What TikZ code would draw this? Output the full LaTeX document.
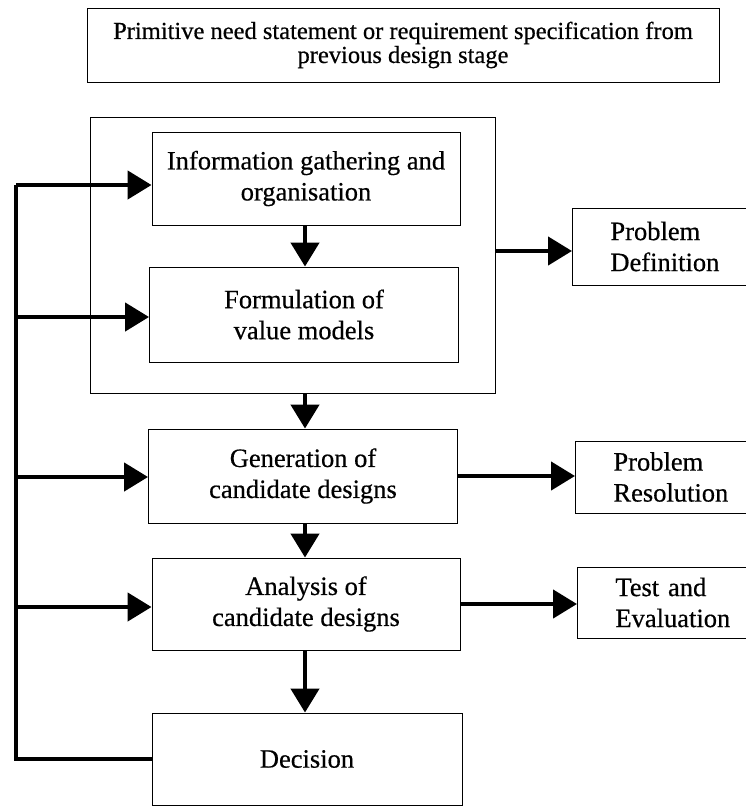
\documentclass[tikz,border=0pt]{standalone}
\usepackage{fontspec}
\setmainfont{Liberation Serif}[FakeBold=0.5]
\usetikzlibrary{arrows.meta}
\begin{document}
\begin{tikzpicture}[x=1pt,y=-1pt,
  box/.style={draw=black,line width=0.9pt,inner sep=0pt,align=center,
    font=\fontsize{26.5}{31}\selectfont},
  sidebox/.style={draw=black,line width=0.9pt,anchor=west,inner sep=0pt,
    inner xsep=38pt,text width=124pt,align=left,
    font=\fontsize{26.5}{31}\selectfont},
  flow/.style={line width=4.5pt,-{Triangle[length=24pt,width=28pt]}},
  plain/.style={line width=4.5pt}]
\clip (0,0) rectangle (746,807);
\fill[white] (0,0) rectangle (746,807);

% input statement
\node[box,minimum width=632pt,minimum height=74pt,font=\fontsize{24.5}{24}\selectfont]
  (need) at (403,45) {Primitive need statement or requirement specification from\\previous design stage};

% problem definition group
\node[draw=black,line width=0.9pt,minimum width=405pt,minimum height=276pt,inner sep=0pt]
  (group) at (292.5,255) {};

% main process boxes
\node[box,minimum width=308pt,minimum height=93pt] (info) at (306,178.5)
  {Information gathering and\\organisation};
\node[box,minimum width=309pt,minimum height=95pt] (form) at (304,314.5)
  {Formulation of\\value models};
\node[box,minimum width=309pt,minimum height=94pt] (gen) at (303,476)
  {Generation of\\candidate designs};
\node[box,minimum width=308pt,minimum height=92pt] (ana) at (306,604)
  {Analysis of\\candidate designs};
\node[box,minimum width=310pt,minimum height=92pt] (dec) at (307,759)
  {Decision};

% stage boxes on the right
\node[sidebox,minimum height=77pt] (pd) at (572,246.5) {Problem\\Definition};
\node[sidebox,minimum height=72pt] (pr) at (575,477) {Problem\\Resolution};
\node[sidebox,minimum height=71pt] (te) at (577,602.5) {Test and\\Evaluation};

% downward flow
\draw[flow] (info.south -| 305,0) -- (form.north -| 305,0);
\draw[flow] (group.south -| 305,0) -- (gen.north -| 305,0);
\draw[flow] (gen.south -| 305,0) -- (ana.north -| 305,0);
\draw[flow] (ana.south -| 305,0) -- (dec.north -| 305,0);

% outputs to the stages
\draw[flow] (group.east |- 0,251) -- (pd.west |- 0,251);
\draw[flow] (gen.east) -- (pr.west |- gen.east);
\draw[flow] (ana.east) -- (te.west |- ana.east);

% feedback from the decision
\coordinate (fbtop) at (16,185);
\draw[plain,line cap=butt] (dec.west) -| (fbtop);
\draw[flow] (fbtop) -- (info.west |- fbtop);
\draw[flow] (16,317) -- (form.west |- 0,317);
\draw[flow] (16,477) -- (gen.west |- 0,477);
\draw[flow] (16,607) -- (ana.west |- 0,607);
\end{tikzpicture}
\end{document}
